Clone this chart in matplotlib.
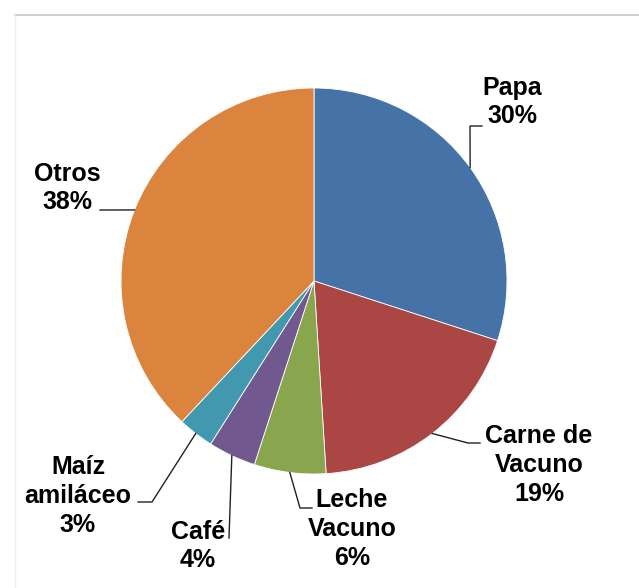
import numpy as np
import matplotlib
matplotlib.use('Agg')
import matplotlib.pyplot as plt
from matplotlib.lines import Line2D

labels = ['Papa', 'Carne de\nVacuno', 'Leche\nVacuno', 'Café', 'Maíz\namiláceo', 'Otros']
shares = [30, 19, 6, 4, 3, 38]
colors = ['#4572A7', '#AA4643', '#89A54E', '#71588F', '#4198AF', '#DB843D']

W, H = 639, 588
cx, cy, r = 314, 281, 193  # pie centre / radius in pixels

# label centres and leader elbows in pixels (layout only)
label_pos = [(512, 102), (539, 465), (352, 529), (198, 546), (78, 496), (67, 188)]
elbows = [[(470, 126), (482, 126)],
          [(468, 443), (480, 443)],
          [(300, 508), (312, 508)],
          [(229, 538)],
          [(152, 502), (138, 502)],
          [(100, 210)]]


def to_data(px, py):
    return (px - cx) / r, (cy - py) / r


plt.rcParams['font.family'] = ['Liberation Sans', 'DejaVu Sans']
fig = plt.figure(figsize=(W / 100, H / 100), dpi=100)
ax = fig.add_axes([(cx - r) / W, (H - cy - r) / H, 2 * r / W, 2 * r / H])
wedges, _ = ax.pie(shares, colors=colors, startangle=90, counterclock=False, radius=1,
                   wedgeprops=dict(edgecolor='white', linewidth=0.6))
ax.set_xlim(-1, 1)
ax.set_ylim(-1, 1)
ax.set_aspect('equal')
ax.axis('off')

total = sum(shares)
for w, lab, val, pos, elb in zip(wedges, labels, shares, label_pos, elbows):
    mid = np.deg2rad((w.theta1 + w.theta2) / 2)
    pts = [(np.cos(mid), np.sin(mid))] + [to_data(*p) for p in elb]
    xs, ys = zip(*pts)
    ax.plot(xs, ys, color='#222222', lw=1.0, clip_on=False)
    tx, ty = to_data(*pos)
    ax.text(tx, ty, f'{lab}\n{round(100 * val / total)}%', ha='center', va='center',
            multialignment='center', fontsize=18, fontweight='bold', linespacing=1.25,
            clip_on=False)

# frame lines of the original chart area
fig.add_artist(Line2D([15 / W, 1], [1 - 15 / H, 1 - 15 / H], color='#C8C8C8', lw=1.2,
                      transform=fig.transFigure))
fig.add_artist(Line2D([15 / W, 15 / W], [0, 1 - 15 / H], color='#EFEFEF', lw=1.0,
                      transform=fig.transFigure))

fig.savefig('out.png', dpi=100, facecolor='white')
